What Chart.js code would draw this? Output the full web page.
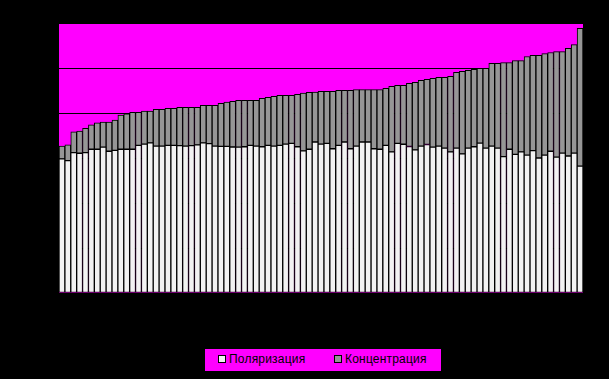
<!DOCTYPE html>
<html>
<head>
<meta charset="utf-8">
<script src="https://cdn.jsdelivr.net/npm/chart.js@4"></script>
<style>
    html, body { margin: 0; padding: 0; background: #000; }
    .wrap { position: relative; width: 609px; height: 379px; }
    .legend {
        position: absolute; left: 205px; top: 349px; width: 236px; height: 22px;
        background: #ff00ff; font-family: "Liberation Sans", Arial, sans-serif; font-size: 12px;
        letter-spacing: 0.2px; color: #000;
    }
    .legend span.box {
        position: absolute; top: 6px; width: 6px; height: 6px; border: 1px solid #000;
    }
    .legend span.txt { position: absolute; top: 3px; line-height: 14px; }
</style>
</head>
<body>
<div class="wrap">
    <canvas id="chart" width="609" height="379"></canvas>
    <div class="legend">
        <span class="box" style="left:13px;background:#f2f2f2"></span>
        <span class="txt" style="left:24px">Поляризация</span>
        <span class="box" style="left:129px;background:#969696"></span>
        <span class="txt" style="left:140px">Концентрация</span>
    </div>
</div>
<script>
// --- Data (scale 0..120) ---
const seriesNames = ['Поляризация', 'Концентрация'];

// total bar height
const totals = [
    65.3, 65.8, 71.6, 72.0, 73.2, 74.7, 75.6, 76.0, 76.0, 76.9,
    79.1, 79.6, 80.3, 80.3, 80.9, 80.9, 81.6, 81.6, 82.1, 82.1,
    82.5, 82.5, 82.5, 82.5, 83.4, 83.4, 83.4, 84.3, 84.8, 85.2,
    85.6, 85.6, 85.6, 85.6, 86.5, 87.0, 87.4, 87.9, 87.9, 87.9,
    88.3, 88.8, 89.2, 89.3, 89.6, 89.6, 89.6, 90.1, 90.1, 90.1,
    90.4, 90.4, 90.4, 90.4, 90.4, 91.0, 91.9, 92.3, 92.3, 93.2,
    93.6, 94.5, 95.0, 95.4, 95.9, 95.9, 96.3, 98.1, 98.5, 99.0,
    99.4, 99.9, 99.9, 102.1, 102.1, 102.4, 102.4, 103.3, 103.3, 105.1,
    105.6, 105.6, 106.4, 106.9, 107.3, 107.3, 108.7, 110.4, 117.6
];

// lower (white) part
const polarization = [
    59.6, 58.8, 62.4, 62.1, 62.4, 63.9, 63.9, 64.8, 63.0, 63.4,
    63.9, 63.9, 63.9, 65.6, 66.2, 66.7, 65.3, 65.3, 65.6, 65.6,
    65.5, 65.3, 65.5, 65.8, 66.7, 66.4, 65.3, 65.2, 65.2, 64.9,
    64.8, 65.0, 65.6, 65.3, 65.0, 65.6, 65.3, 65.6, 66.2, 66.5,
    65.0, 63.2, 63.9, 67.1, 66.2, 66.5, 64.1, 65.6, 67.1, 64.1,
    65.3, 67.1, 67.1, 64.1, 63.9, 65.6, 62.7, 66.5, 66.1, 65.1,
    63.6, 65.3, 66.0, 64.8, 65.3, 64.4, 62.7, 64.4, 61.8, 64.4,
    65.0, 66.6, 64.4, 65.3, 64.4, 60.6, 63.9, 61.6, 62.7, 61.3,
    63.3, 60.0, 61.3, 63.0, 60.4, 62.2, 60.9, 62.2, 56.4
];

// upper (gray) part = total minus the white part
const concentration = totals.map((t, i) => +(t - polarization[i]).toFixed(1));

const labels = totals.map((_, i) => String(i + 1));
const yTicks = [0, 20, 40, 60, 80, 100, 120];

// magenta plot area
const plotBg = {
    id: 'plotBg',
    beforeDraw(chart) {
        const { ctx, chartArea: a } = chart;
        ctx.save();
        ctx.fillStyle = '#ff00ff';
        ctx.fillRect(a.left, a.top, a.right - a.left, a.bottom - a.top);
        ctx.restore();
    }
};

new Chart(document.getElementById('chart').getContext('2d'), {
    type: 'bar',
    data: {
        labels: labels,
        datasets: [
            {
                label: seriesNames[0],
                data: polarization,
                backgroundColor: '#f2f2f2',
                borderColor: '#000',
                borderWidth: 1,
                borderSkipped: false
            },
            {
                label: seriesNames[1],
                data: concentration,
                backgroundColor: '#969696',
                borderColor: '#000',
                borderWidth: 1,
                borderSkipped: false
            }
        ]
    },
    options: {
        responsive: false,
        animation: false,
        layout: { padding: { left: 59, right: 26, top: 23, bottom: 86 } },
        datasets: { bar: { barPercentage: 1, categoryPercentage: 1 } },
        plugins: { legend: { display: false }, tooltip: { enabled: false } },
        scales: {
            x: {
                stacked: true,
                display: false
            },
            y: {
                stacked: true,
                min: yTicks[0],
                max: yTicks[yTicks.length - 1],
                afterBuildTicks: axis => { axis.ticks = yTicks.map(v => ({ value: v })); },
                grid: { color: '#000', lineWidth: 1, drawTicks: false },
                border: { display: false },
                ticks: { display: false }
            }
        }
    },
    plugins: [plotBg]
});
</script>
</body>
</html>
